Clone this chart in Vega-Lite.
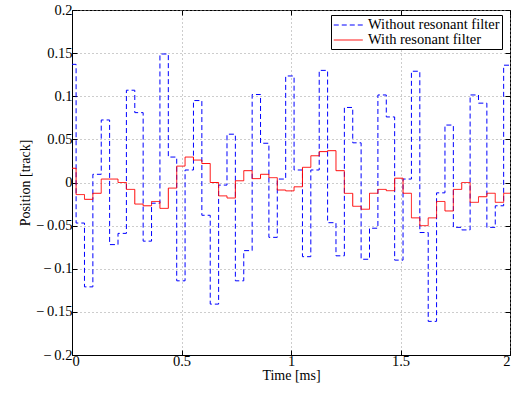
{
  "$schema": "https://vega.github.io/schema/vega-lite/v6.json",
  "width": 438,
  "height": 345,
  "autosize": "none",
  "padding": {"left": 72, "top": 10, "right": 5, "bottom": 39},
  "background": "white",
  "config": {
    "view": {"stroke": "black", "strokeWidth": 1},
    "font": "Liberation Serif",
    "axis": {
      "labelFont": "Liberation Serif",
      "labelFontSize": 14.5,
      "labelColor": "black",
      "titleFont": "Liberation Serif",
      "titleFontSize": 14,
      "titleFontWeight": "normal",
      "titleColor": "black",
      "domainColor": "black",
      "tickColor": "black",
      "gridColor": "#9a9a9a",
      "gridDash": [1, 3],
      "gridWidth": 1
    },
    "legend": {
      "labelFont": "Liberation Serif",
      "labelFontSize": 14.5,
      "labelColor": "black"
    }
  },
  "datasets": {
    "pos": [
      {"t": 0, "s": "Without resonant filter", "v": 0.137},
      {"t": 0.0187, "s": "Without resonant filter", "v": -0.047},
      {"t": 0.057, "s": "Without resonant filter", "v": -0.121},
      {"t": 0.0953, "s": "Without resonant filter", "v": 0.0095},
      {"t": 0.1335, "s": "Without resonant filter", "v": 0.0725},
      {"t": 0.1718, "s": "Without resonant filter", "v": -0.072},
      {"t": 0.2101, "s": "Without resonant filter", "v": -0.059},
      {"t": 0.2484, "s": "Without resonant filter", "v": 0.107},
      {"t": 0.2867, "s": "Without resonant filter", "v": 0.081},
      {"t": 0.3249, "s": "Without resonant filter", "v": -0.068},
      {"t": 0.3632, "s": "Without resonant filter", "v": -0.024},
      {"t": 0.4015, "s": "Without resonant filter", "v": 0.149},
      {"t": 0.4398, "s": "Without resonant filter", "v": 0.0295},
      {"t": 0.4781, "s": "Without resonant filter", "v": -0.114},
      {"t": 0.5163, "s": "Without resonant filter", "v": 0.0145},
      {"t": 0.5546, "s": "Without resonant filter", "v": 0.095},
      {"t": 0.5929, "s": "Without resonant filter", "v": -0.038},
      {"t": 0.6312, "s": "Without resonant filter", "v": -0.141},
      {"t": 0.6695, "s": "Without resonant filter", "v": -0.003},
      {"t": 0.7077, "s": "Without resonant filter", "v": 0.056},
      {"t": 0.746, "s": "Without resonant filter", "v": -0.114},
      {"t": 0.7843, "s": "Without resonant filter", "v": -0.079},
      {"t": 0.8226, "s": "Without resonant filter", "v": 0.102},
      {"t": 0.8609, "s": "Without resonant filter", "v": 0.0455},
      {"t": 0.8991, "s": "Without resonant filter", "v": -0.0636},
      {"t": 0.9374, "s": "Without resonant filter", "v": 0.004},
      {"t": 0.9757, "s": "Without resonant filter", "v": 0.1235},
      {"t": 1.014, "s": "Without resonant filter", "v": 0.0145},
      {"t": 1.0523, "s": "Without resonant filter", "v": -0.086},
      {"t": 1.0905, "s": "Without resonant filter", "v": 0.0145},
      {"t": 1.1288, "s": "Without resonant filter", "v": 0.13},
      {"t": 1.1671, "s": "Without resonant filter", "v": -0.0466},
      {"t": 1.2054, "s": "Without resonant filter", "v": -0.085},
      {"t": 1.2437, "s": "Without resonant filter", "v": 0.087},
      {"t": 1.2819, "s": "Without resonant filter", "v": 0.046},
      {"t": 1.3202, "s": "Without resonant filter", "v": -0.089},
      {"t": 1.3585, "s": "Without resonant filter", "v": -0.053},
      {"t": 1.3968, "s": "Without resonant filter", "v": 0.1015},
      {"t": 1.4351, "s": "Without resonant filter", "v": 0.076},
      {"t": 1.4733, "s": "Without resonant filter", "v": -0.09},
      {"t": 1.5116, "s": "Without resonant filter", "v": 0.004},
      {"t": 1.5499, "s": "Without resonant filter", "v": 0.129},
      {"t": 1.5882, "s": "Without resonant filter", "v": -0.058},
      {"t": 1.6265, "s": "Without resonant filter", "v": -0.161},
      {"t": 1.6647, "s": "Without resonant filter", "v": -0.012},
      {"t": 1.703, "s": "Without resonant filter", "v": 0.0666},
      {"t": 1.7413, "s": "Without resonant filter", "v": -0.052},
      {"t": 1.7796, "s": "Without resonant filter", "v": -0.055},
      {"t": 1.8179, "s": "Without resonant filter", "v": 0.1015},
      {"t": 1.8561, "s": "Without resonant filter", "v": 0.092},
      {"t": 1.8944, "s": "Without resonant filter", "v": -0.052},
      {"t": 1.9327, "s": "Without resonant filter", "v": -0.027},
      {"t": 1.971, "s": "Without resonant filter", "v": 0.136},
      {"t": 2, "s": "Without resonant filter", "v": 0.136},
      {"t": 0, "s": "With resonant filter", "v": 0.0165},
      {"t": 0.0187, "s": "With resonant filter", "v": -0.014},
      {"t": 0.057, "s": "With resonant filter", "v": -0.0195},
      {"t": 0.0953, "s": "With resonant filter", "v": -0.0125},
      {"t": 0.1335, "s": "With resonant filter", "v": 0.004},
      {"t": 0.1718, "s": "With resonant filter", "v": 0.004},
      {"t": 0.2101, "s": "With resonant filter", "v": 0},
      {"t": 0.2484, "s": "With resonant filter", "v": -0.008},
      {"t": 0.2867, "s": "With resonant filter", "v": -0.025},
      {"t": 0.3249, "s": "With resonant filter", "v": -0.027},
      {"t": 0.3632, "s": "With resonant filter", "v": -0.022},
      {"t": 0.4015, "s": "With resonant filter", "v": -0.03},
      {"t": 0.4398, "s": "With resonant filter", "v": -0.0065},
      {"t": 0.4781, "s": "With resonant filter", "v": 0.019},
      {"t": 0.5163, "s": "With resonant filter", "v": 0.0295},
      {"t": 0.5546, "s": "With resonant filter", "v": 0.026},
      {"t": 0.5929, "s": "With resonant filter", "v": 0.022},
      {"t": 0.6312, "s": "With resonant filter", "v": 0},
      {"t": 0.6695, "s": "With resonant filter", "v": -0.0155},
      {"t": 0.7077, "s": "With resonant filter", "v": -0.018},
      {"t": 0.746, "s": "With resonant filter", "v": 0.002},
      {"t": 0.7843, "s": "With resonant filter", "v": 0.0137},
      {"t": 0.8226, "s": "With resonant filter", "v": 0.0045},
      {"t": 0.8609, "s": "With resonant filter", "v": 0.0095},
      {"t": 0.8991, "s": "With resonant filter", "v": 0.0056},
      {"t": 0.9374, "s": "With resonant filter", "v": -0.0087},
      {"t": 0.9757, "s": "With resonant filter", "v": -0.0097},
      {"t": 1.014, "s": "With resonant filter", "v": -0.005},
      {"t": 1.0523, "s": "With resonant filter", "v": 0.0176},
      {"t": 1.0905, "s": "With resonant filter", "v": 0.031},
      {"t": 1.1288, "s": "With resonant filter", "v": 0.0358},
      {"t": 1.1671, "s": "With resonant filter", "v": 0.0369},
      {"t": 1.2054, "s": "With resonant filter", "v": 0.0137},
      {"t": 1.2437, "s": "With resonant filter", "v": -0.0126},
      {"t": 1.2819, "s": "With resonant filter", "v": -0.0276},
      {"t": 1.3202, "s": "With resonant filter", "v": -0.031},
      {"t": 1.3585, "s": "With resonant filter", "v": -0.0125},
      {"t": 1.3968, "s": "With resonant filter", "v": -0.008},
      {"t": 1.4351, "s": "With resonant filter", "v": -0.0095},
      {"t": 1.4733, "s": "With resonant filter", "v": 0.005},
      {"t": 1.5116, "s": "With resonant filter", "v": -0.0125},
      {"t": 1.5499, "s": "With resonant filter", "v": -0.041},
      {"t": 1.5882, "s": "With resonant filter", "v": -0.05},
      {"t": 1.6265, "s": "With resonant filter", "v": -0.041},
      {"t": 1.6647, "s": "With resonant filter", "v": -0.022},
      {"t": 1.703, "s": "With resonant filter", "v": -0.033},
      {"t": 1.7413, "s": "With resonant filter", "v": -0.008},
      {"t": 1.7796, "s": "With resonant filter", "v": 0},
      {"t": 1.8179, "s": "With resonant filter", "v": -0.023},
      {"t": 1.8561, "s": "With resonant filter", "v": -0.0165},
      {"t": 1.8944, "s": "With resonant filter", "v": -0.0125},
      {"t": 1.9327, "s": "With resonant filter", "v": -0.023},
      {"t": 1.971, "s": "With resonant filter", "v": -0.0125},
      {"t": 2, "s": "With resonant filter", "v": -0.0125}
    ]
  },
  "data": {"name": "pos"},
  "layer": [
    {
      "transform": [{"filter": "datum.s === 'Without resonant filter'"}],
      "mark": {"type": "line", "interpolate": "step-after", "strokeWidth": 1, "clip": true},
      "encoding": {
        "x": {
          "field": "t", "type": "quantitative",
          "scale": {"domain": [0, 2], "nice": false, "zero": false},
          "axis": {"values": [0, 0.5, 1, 1.5, 2], "format": "~g", "title": "Time [ms]", "tickSize": -5, "labelPadding": 4, "titlePadding": 1, "grid": true}
        },
        "y": {
          "field": "v", "type": "quantitative",
          "scale": {"domain": [-0.2, 0.2], "nice": false, "zero": false},
          "axis": {"values": [-0.2, -0.15, -0.1, -0.05, 0, 0.05, 0.1, 0.15, 0.2], "labelExpr": "datum.value < 0 ? '\u2212\u2009' + format(-datum.value, '~g') : format(datum.value, '~g')", "title": "Position [track]", "tickSize": -5, "labelPadding": 5, "titlePadding": 3, "grid": true}
        },
        "color": {
          "field": "s", "type": "nominal",
          "scale": {"domain": ["Without resonant filter", "With resonant filter"], "range": ["#0000ff", "#ff0000"]},
          "legend": {
            "title": null, "orient": "none", "legendX": 259, "legendY": 5,
            "strokeColor": "black", "fillColor": "white", "padding": 2,
            "symbolType": "M-1,0H3", "symbolSize": 210, "symbolStrokeWidth": 1,
            "rowPadding": 0, "labelOffset": 19
          }
        },
        "strokeDash": {
          "field": "s", "type": "nominal",
          "scale": {"domain": ["Without resonant filter", "With resonant filter"], "range": [[5, 3], [1, 0]]},
          "legend": {
            "title": null, "orient": "none", "legendX": 259, "legendY": 5,
            "strokeColor": "black", "fillColor": "white", "padding": 2,
            "symbolType": "M-1,0H3", "symbolSize": 210, "symbolStrokeWidth": 1,
            "rowPadding": 0, "labelOffset": 19
          }
        }
      }
    },
    {
      "transform": [{"filter": "datum.s === 'With resonant filter'"}],
      "mark": {"type": "line", "interpolate": "step-after", "strokeWidth": 1, "clip": true},
      "encoding": {
        "x": {
          "field": "t", "type": "quantitative",
          "axis": {"orient": "top", "values": [0, 0.5, 1, 1.5, 2], "labels": false, "title": null, "tickSize": -5, "grid": false, "domain": false}
        },
        "y": {
          "field": "v", "type": "quantitative",
          "axis": {"orient": "right", "values": [-0.2, -0.15, -0.1, -0.05, 0, 0.05, 0.1, 0.15, 0.2], "labels": false, "title": null, "tickSize": -5, "grid": false, "domain": false}
        },
        "color": {"field": "s", "type": "nominal"},
        "strokeDash": {"field": "s", "type": "nominal"}
      }
    }
  ],
  "resolve": {"axis": {"x": "independent", "y": "independent"}}
}
